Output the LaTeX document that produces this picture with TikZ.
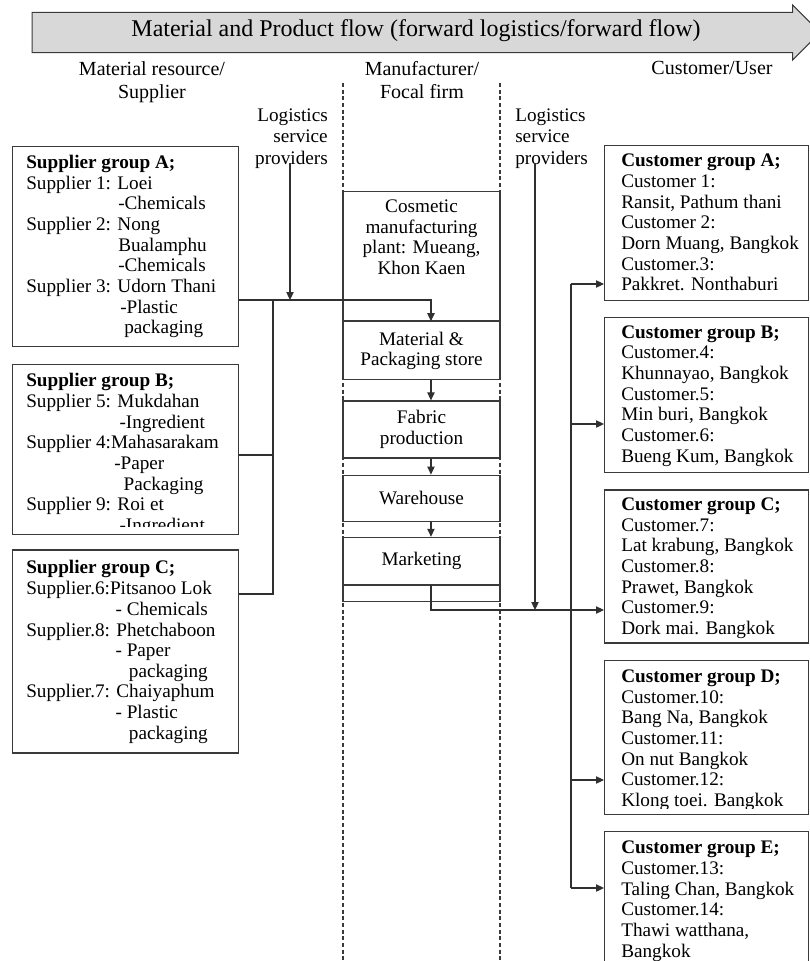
\documentclass[tikz,border=0pt]{standalone}
\usepackage{fontspec}
\setmainfont{Liberation Serif}
\usetikzlibrary{positioning,arrows.meta,calc,shapes.arrows}
\definecolor{lineg}{HTML}{303030}
\definecolor{boxg}{HTML}{3A3A3A}
\definecolor{bannerg}{HTML}{D8D8D8}

\begin{document}
\begin{tikzpicture}[
    x=0.75pt, y=-0.75pt,
    every node/.style={font=\fontsize{14.4}{15.5}\selectfont, inner sep=0pt},
    banner/.style={
        single arrow, draw=boxg, fill=bannerg, line width=0.8pt,
        single arrow head extend=5.5pt, single arrow tip angle=90,
        minimum height=591pt, inner xsep=4pt, inner ysep=7.9pt,
        text height=10pt, text depth=3.5pt, font=\fontsize{18}{20}\selectfont
    },
    colhead/.style={font=\fontsize{15}{17.25}\selectfont, align=center, anchor=north},
    lsp/.style={font=\fontsize{14.4}{16}\selectfont},
    supbox/.style={draw=boxg, line width=0.9pt, minimum width=169.5pt},
    custbox/.style={draw=boxg, line width=0.9pt, minimum width=153pt},
    stage/.style={draw=boxg, line width=0.9pt, minimum width=117.75pt, align=center},
    grouptxt/.style={align=left, anchor=north west},
    lane/.style={draw=boxg, line width=0.8pt, dash pattern=on 3pt off 2pt},
    wire/.style={draw=lineg, line width=0.8pt},
    arr/.style={-{Triangle[length=6pt, width=5.5pt]}, draw=lineg, line width=0.8pt},
]
\clip (0,0) rectangle (810,961);

% === Flow banner ===
\node[banner] (flow) at (416,32.5) {Material and Product flow (forward logistics/forward flow)};

% === Column headers ===
\node[colhead] (suphead) at (152,61) {Material resource/\\Supplier};
\node[colhead] (mfghead) at (422,61) {Manufacturer/\\Focal firm};
\node[colhead] (custhead) at (712,61) {Customer/User};

% Lane separators
\draw[lane] (343,83) -- (343,961);
\draw[lane] (500,83) -- (500,961);

% ============================
% SUPPLIERS (left)
% ============================
\node[supbox, minimum height=150pt, anchor=north west] (supA) at (12,146) {};
\node[supbox, minimum height=127.5pt, below=12.75pt of supA] (supB) {};
\node[supbox, minimum height=152.25pt, below=10.5pt of supB] (supC) {};

\node[grouptxt] (supAtxt) at ($(supA.north west)+(14,9)$) {\textbf{Supplier group A;}\\
    Supplier 1: Loei\\
    \hspace*{69pt}-Chemicals\\
    Supplier 2: Nong\\
    \hspace*{69pt}Bualamphu\\
    \hspace*{69pt}-Chemicals\\
    Supplier 3: Udorn Thani\\
    \hspace*{70.5pt}-Plastic\\
    \hspace*{73.5pt}packaging};

\begin{scope}
\clip ($(supB.south west)+(0,-9)$) rectangle (supB.north east);
\node[grouptxt] (supBtxt) at ($(supB.north west)+(14,9)$) {\textbf{Supplier group B;}\\
    Supplier 5: Mukdahan\\
    \hspace*{70pt}-Ingredient\\
    Supplier 4:Mahasarakam\\
    \hspace*{66pt}-Paper\\
    \hspace*{73pt}Packaging\\
    Supplier 9: Roi et\\
    \hspace*{70pt}-Ingredient};
\end{scope}

\node[grouptxt] (supCtxt) at ($(supC.north west)+(14,11)$) {\textbf{Supplier group C;}\\
    Supplier.6:Pitsanoo Lok\\
    \hspace*{67pt}- Chemicals\\
    Supplier.8: Phetchaboon\\
    \hspace*{67pt}- Paper\\
    \hspace*{77pt}packaging\\
    Supplier.7: Chaiyaphum\\
    \hspace*{67pt}- Plastic\\
    \hspace*{77pt}packaging};

% Logistics providers (inbound)
\node[lsp, align=right, anchor=north east] (lspL) at (328,108.5) {Logistics\\service\\providers};
\coordinate (lspLfoot) at (290,163);

% ============================
% MANUFACTURER (middle)
% ============================
\node[stage, minimum height=96.75pt, anchor=north] (plant) at (421.5,191) {};
\node[align=center, anchor=north] (plantlbl) at ($(plant.north)+(0,8.5)$) {Cosmetic\\manufacturing\\plant: Mueang,\\Khon Kaen};
\node[stage, minimum height=43.5pt, below=0pt of plant] (store) {Material \&\\Packaging store};
\node[stage, minimum height=42.75pt, below=15pt of store] (fabric) {Fabric\\production};
\node[stage, minimum height=34.5pt, below=12pt of fabric] (wareh) {Warehouse};
\node[stage, minimum height=35.25pt, below=11.25pt of wareh] (market) {Marketing};
\node[stage, minimum height=12pt, below=0pt of market] (tail) {};

\draw[arr] ([xshift=7.1pt]store.south) -- ([xshift=7.1pt]fabric.north);
\draw[arr] ([xshift=7.1pt]fabric.south) -- ([xshift=7.1pt]wareh.north);
\draw[arr] ([xshift=7.1pt]wareh.south) -- ([xshift=7.1pt]market.north);

% Inbound flow
\coordinate (feed) at (273,300);
\coordinate (joinB) at (273,455);
\coordinate (joinC) at (273,594);
\draw[wire] (supB.east |- joinB) -- (joinB);
\draw[wire] (supC.east |- joinC) -- (joinC) -- (feed);
\draw[arr] (supA.east |- feed) -| ([xshift=7.1pt]store.north);
\draw[arr] (lspLfoot) -- (lspLfoot |- feed);

% ============================
% CUSTOMERS (right)
% ============================
\node[custbox, minimum height=116.25pt, anchor=north west] (custA) at (604,145) {};
\node[custbox, minimum height=116.25pt, below=12pt of custA] (custB) {};
\node[custbox, minimum height=114.75pt, below=12pt of custB] (custC) {};
\node[custbox, minimum height=115.5pt, below=12pt of custC] (custD) {};
\node[custbox, minimum height=120pt, below=12pt of custD] (custE) {};

\node[grouptxt] (custAtxt) at ($(custA.north west)+(17,9)$) {\textbf{Customer group A;}\\
    Customer 1:\\
    Ransit, Pathum thani\\
    Customer 2:\\
    Dorn Muang, Bangkok\\
    Customer.3:\\
    Pakkret. Nonthaburi};

\begin{scope}
\clip ($(custB.south west)+(0,-7)$) rectangle (custB.north east);
\node[grouptxt] (custBtxt) at ($(custB.north west)+(17,8)$) {\textbf{Customer group B;}\\
    Customer.4:\\
    Khunnayao, Bangkok\\
    Customer.5:\\
    Min buri, Bangkok\\
    Customer.6:\\
    Bueng Kum, Bangkok};
\end{scope}

\begin{scope}
\clip ($(custC.south west)+(0,-5)$) rectangle (custC.north east);
\node[grouptxt] (custCtxt) at ($(custC.north west)+(17,8)$) {\textbf{Customer group C;}\\
    Customer.7:\\
    Lat krabung, Bangkok\\
    Customer.8:\\
    Prawet, Bangkok\\
    Customer.9:\\
    Dork mai. Bangkok};
\end{scope}

\begin{scope}
\clip ($(custD.south west)+(0,-6)$) rectangle (custD.north east);
\node[grouptxt] (custDtxt) at ($(custD.north west)+(17,10)$) {\textbf{Customer group D;}\\
    Customer.10:\\
    Bang Na, Bangkok\\
    Customer.11:\\
    On nut Bangkok\\
    Customer.12:\\
    Klong toei. Bangkok};
\end{scope}

\node[grouptxt] (custEtxt) at ($(custE.north west)+(17,10)$) {\textbf{Customer group E;}\\
    Customer.13:\\
    Taling Chan, Bangkok\\
    Customer.14:\\
    Thawi watthana,\\
    Bangkok};

% Logistics providers (outbound)
\node[lsp, align=left, anchor=north west] (lspR) at (515,108.5) {Logistics\\service\\providers};
\coordinate (lspRfoot) at (535,163);

% Outbound flow
\coordinate (mktout) at (431,610);
\draw[arr] ([xshift=7.1pt]market.south) |- (custC.west |- mktout);
\draw[arr] (lspRfoot) -- (lspRfoot |- mktout);

% Distribution bus
\coordinate (busA) at (571,284);
\coordinate (busB) at (571,424);
\coordinate (busD) at (571,780);
\coordinate (busE) at (571,888);
\draw[wire] (busA) -- (busE);
\draw[arr] (busA) -- (busA -| custA.west);
\draw[arr] (busB) -- (busB -| custB.west);
\draw[arr] (busD) -- (busD -| custD.west);
\draw[arr] (busE) -- (busE -| custE.west);

\end{tikzpicture}
\end{document}
